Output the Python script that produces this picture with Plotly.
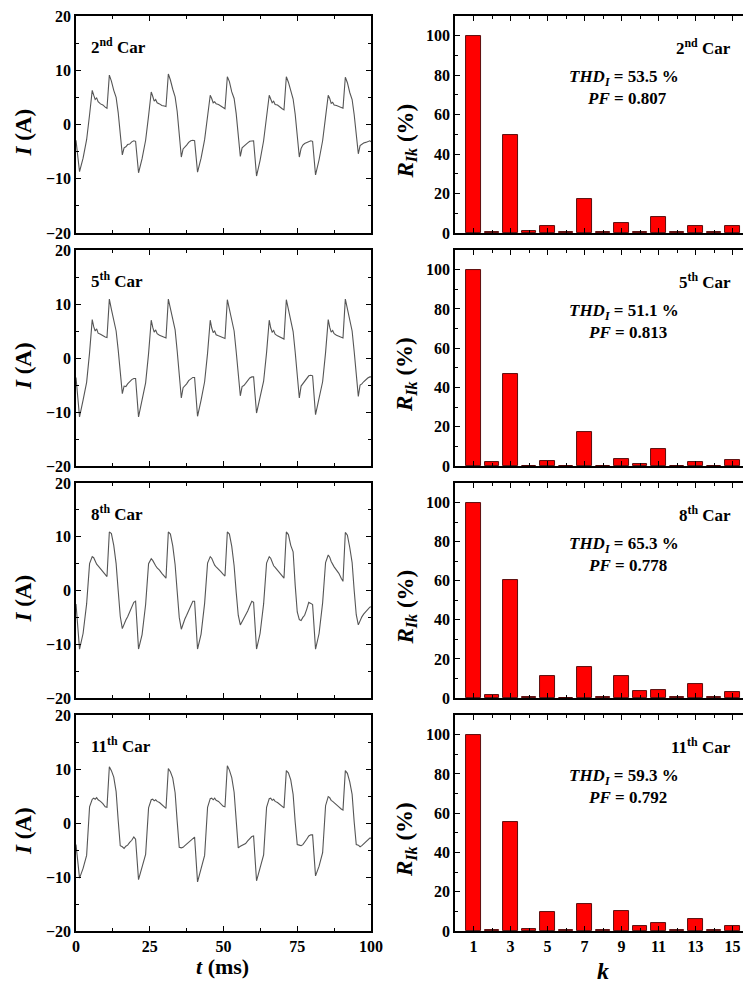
import plotly.graph_objects as go

W, H = 751, 986          # window size (reference picture)
OFF = 8                  # page body margin in the browser
FW, FH = W - OFF, H - OFF  # figure size so that it ends exactly at the window edge
FONT = "Liberation Serif, Times New Roman, Times, serif"

# ---------------- data ----------------
CARS = ["2<sup>nd</sup> Car", "5<sup>th</sup> Car", "8<sup>th</sup> Car", "11<sup>th</sup> Car"]
THD_I = ["53.5", "51.1", "65.3", "59.3"]
PF = ["0.807", "0.813", "0.778", "0.792"]

K = [1, 2, 3, 4, 5, 6, 7, 8, 9, 10, 11, 12, 13, 14, 15]
K_TICKS = [1, 3, 5, 7, 9, 11, 13, 15]
R_2ND = [100, 0.5, 49.5, 1.2, 3.8, 0.3, 17.0, 0.5, 5.0, 0.5, 8.0, 0.6, 3.5, 0.5, 3.8]
R_5TH = [100, 2.0, 47.0, 0.0, 2.5, 0.0, 17.3, 0.0, 3.8, 0.8, 8.5, 0.0, 2.2, 0.0, 3.3]
R_8TH = [100, 1.3, 60.5, 0.3, 11.5, 0.2, 16.0, 0.7, 11.5, 3.7, 4.2, 0.7, 7.0, 0.3, 3.0]
R_11TH = [100, 0.3, 55.3, 1.0, 9.7, 0.7, 14.0, 0.5, 10.0, 2.7, 4.0, 0.5, 6.3, 0.5, 2.5]

T_TICKS = [0, 25, 50, 75, 100]

T_MS = [
    0.0, 1.2, 2.4, 3.6, 4.6, 5.5, 6.0, 6.5, 7.0, 7.5, 8.3, 9.1, 9.9, 10.5, 11.3, 12.0, 12.8, 13.6, 14.3, 15.0, 15.7, 16.3, 16.9, 17.5, 18.2, 18.9, 19.6,
    20.2, 21.2, 22.4, 23.6, 24.6, 25.5, 26.0, 26.5, 27.0, 27.5, 28.3, 29.1, 29.9, 30.5, 31.3, 32.0, 32.8, 33.6, 34.3, 35.0, 35.7, 36.3, 36.9, 37.5, 38.2, 38.9, 39.6,
    40.2, 41.2, 42.4, 43.6, 44.6, 45.5, 46.0, 46.5, 47.0, 47.5, 48.3, 49.1, 49.9, 50.5, 51.3, 52.0, 52.8, 53.6, 54.3, 55.0, 55.7, 56.3, 56.9, 57.5, 58.2, 58.9, 59.6,
    60.2, 61.2, 62.4, 63.6, 64.6, 65.5, 66.0, 66.5, 67.0, 67.5, 68.3, 69.1, 69.9, 70.5, 71.3, 72.0, 72.8, 73.6, 74.3, 75.0, 75.7, 76.3, 76.9, 77.5, 78.2, 78.9, 79.6,
    80.2, 81.2, 82.4, 83.6, 84.6, 85.5, 86.0, 86.5, 87.0, 87.5, 88.3, 89.1, 89.9, 90.5, 91.3, 92.0, 92.8, 93.6, 94.3, 95.0, 95.7, 96.3, 96.9, 97.5, 98.2, 98.9, 99.6,
    100.0,
]

I_2ND = [
    -2.9, -8.7, -6.2, -2.8, 1.8, 6.3, 5.4, 4.6, 4.9, 4.2, 3.8, 3.6, 3.2, 3.0, 9.1, 8.0, 6.3, 5.0, 2.2, -2.5, -5.6, -4.3, -4.1, -3.7, -3.6, -3.2, -3.0,
    -3.1, -8.9, -6.3, -2.9, 1.6, 6.0, 5.2, 4.3, 4.6, 4.0, 3.8, 3.5, 3.4, 3.3, 9.3, 8.2, 6.5, 5.1, 2.4, -2.6, -6.0, -4.5, -4.2, -3.8, -3.3, -3.0, -2.9,
    -3.0, -8.8, -6.2, -2.8, 1.4, 5.4, 4.8, 4.0, 4.2, 3.8, 3.7, 3.4, 3.1, 2.9, 8.8, 7.9, 6.0, 4.8, 2.0, -2.6, -5.9, -4.3, -4.0, -3.6, -3.4, -3.1, -3.0,
    -3.0, -9.5, -6.6, -3.0, 1.3, 5.4, 4.7, 4.0, 4.3, 3.7, 3.6, 3.2, 2.9, 2.7, 8.8, 7.8, 6.0, 4.7, 1.9, -2.7, -6.0, -4.4, -3.8, -3.5, -3.3, -3.1, -3.0,
    -3.1, -9.3, -6.5, -3.0, 1.4, 5.4, 4.8, 3.9, 4.1, 3.6, 3.5, 3.3, 3.1, 3.0, 8.7, 7.7, 5.9, 4.6, 1.8, -2.4, -5.4, -3.9, -3.6, -3.4, -3.3, -3.1, -3.0,
    -3.2,
]

I_5TH = [
    -3.6, -10.9, -7.8, -4.5, 1.0, 7.1, 5.8, 5.0, 5.4, 4.6, 4.4, 4.1, 3.9, 3.8, 10.9, 9.0, 7.0, 5.0, 1.5, -3.0, -6.6, -5.2, -5.3, -4.8, -4.4, -4.0, -3.8,
    -3.8, -10.9, -7.9, -4.6, 0.8, 7.0, 5.7, 4.8, 5.2, 4.5, 4.2, 4.0, 3.8, 3.7, 10.9, 9.1, 7.0, 5.2, 1.3, -3.2, -7.4, -5.5, -5.2, -4.8, -4.2, -3.8, -3.6,
    -3.6, -10.8, -7.8, -4.4, 0.9, 7.0, 5.6, 4.7, 5.0, 4.3, 4.1, 3.9, 3.7, 3.6, 10.8, 9.0, 6.9, 5.0, 1.2, -3.1, -7.0, -5.3, -5.1, -4.7, -4.2, -3.7, -3.5,
    -3.5, -10.2, -7.5, -4.3, 1.0, 7.0, 5.6, 4.8, 5.1, 4.4, 4.1, 3.9, 3.7, 3.5, 10.8, 8.9, 6.8, 4.9, 1.1, -3.3, -7.4, -5.2, -4.8, -4.3, -3.8, -3.3, -3.2,
    -3.3, -10.5, -7.6, -4.4, 1.0, 7.1, 5.7, 4.8, 5.1, 4.5, 4.2, 4.0, 3.8, 3.7, 10.9, 9.0, 6.9, 5.0, 1.2, -3.2, -7.1, -5.0, -4.8, -4.4, -4.0, -3.7, -3.5,
    -3.5,
]

I_8TH = [
    -2.5, -10.9, -8.0, -2.5, 5.0, 6.3, 6.1, 5.3, 4.9, 4.6, 4.1, 3.6, 3.0, 2.6, 10.9, 10.6, 8.4, 5.0, 0.0, -4.8, -7.1, -6.2, -5.5, -4.9, -4.0, -3.2, -2.2,
    -2.0, -10.9, -8.2, -2.6, 5.0, 5.9, 5.6, 5.0, 4.6, 4.2, 3.8, 3.2, 2.6, 2.3, 10.9, 10.5, 8.3, 4.8, -0.2, -5.0, -7.2, -6.0, -5.3, -4.6, -3.8, -3.0, -2.0,
    -2.0, -10.9, -8.1, -2.4, 5.1, 6.3, 6.0, 5.2, 4.7, 4.4, 4.0, 3.5, 3.0, 2.7, 10.9, 10.5, 8.2, 4.6, -0.3, -4.6, -6.4, -5.8, -5.2, -4.6, -3.8, -2.9, -2.0,
    -2.2, -10.9, -8.0, -2.5, 5.1, 6.3, 6.0, 5.1, 4.6, 4.3, 3.8, 3.2, 2.7, 2.3, 10.9, 10.4, 8.4, 7.2, 1.0, -4.0, -5.4, -5.6, -5.0, -4.6, -3.5, -2.2, -2.4,
    -2.6, -10.9, -8.0, -2.3, 5.2, 6.6, 6.2, 5.4, 4.8, 4.4, 3.8, 3.2, 2.3, 1.7, 10.8, 10.3, 8.0, 5.2, 0.0, -4.5, -6.4, -5.5, -4.9, -4.4, -3.9, -3.5, -3.1,
    -3.0,
]

I_11TH = [
    -4.0, -10.2, -8.4, -6.0, 3.0, 4.4, 4.6, 4.4, 4.7, 4.3, 4.0, 3.6, 3.0, 2.9, 10.4, 9.7, 8.5, 5.8, 0.5, -4.2, -4.4, -4.7, -4.3, -4.1, -3.6, -3.2, -2.6,
    -3.0, -10.5, -8.3, -5.8, 2.8, 4.3, 4.4, 4.1, 4.3, 4.0, 3.8, 3.4, 2.9, 2.7, 10.1, 9.5, 8.3, 5.6, 0.3, -4.5, -4.6, -4.5, -4.2, -3.9, -3.5, -3.1, -2.8,
    -2.6, -10.9, -8.5, -6.0, 2.9, 4.5, 4.6, 4.3, 4.6, 4.2, 4.0, 3.6, 3.1, 3.0, 10.6, 9.8, 8.4, 5.7, 0.4, -4.6, -4.3, -4.1, -4.0, -3.8, -3.3, -2.9, -2.5,
    -2.4, -10.7, -8.3, -5.9, 2.9, 4.5, 4.6, 4.2, 4.4, 4.0, 3.8, 3.4, 3.0, 2.8, 9.7, 9.3, 8.0, 5.3, 0.2, -4.0, -4.1, -4.2, -4.0, -3.6, -3.0, -2.4, -2.2,
    -2.2, -9.8, -8.0, -5.5, 3.2, 4.9, 4.7, 4.2, 4.0, 3.8, 3.4, 3.0, 2.6, 2.4, 9.7, 9.2, 7.6, 5.3, 0.2, -4.0, -4.1, -4.4, -4.2, -3.9, -3.5, -3.1, -2.8,
    -2.8,
]

WAVES = [I_2ND, I_5TH, I_8TH, I_11TH]
SPECTRA = [R_2ND, R_5TH, R_8TH, R_11TH]

# ---------------- layout geometry (window pixels) ----------------
TOPS = [16, 250, 483, 715]
BOTS = [233, 466, 698, 931]
LX = (76, 371)
RX = (455, 751)


def px(x):
    return (x - OFF) / FW


def py(y):
    return 1 - (y - OFF) / FH


fig = go.Figure()
layout = {}
annotations = []

tickfont = dict(family=FONT, size=16, color="black", weight="bold")
common = dict(
    showline=True, linecolor="black", linewidth=1.5, mirror="allticks",
    ticks="inside", ticklen=5, tickwidth=1.4, tickcolor="black",
    showgrid=False, zeroline=False, tickfont=tickfont, automargin=False,
    ticklabeloverflow="allow",
)
minor_style = dict(ticks="inside", ticklen=3, tickwidth=1.2, tickcolor="black")


def bold(s):
    return dict(family=FONT, size=s, color="black", weight="bold")


for i in range(4):
    nl, nr = 2 * i + 1, 2 * i + 2
    sl = "" if nl == 1 else str(nl)
    sr = str(nr)
    ydom = [py(BOTS[i]), py(TOPS[i])]
    last = i == 3

    fig.add_trace(go.Scatter(
        x=T_MS, y=WAVES[i], mode="lines",
        line=dict(color="#555555", width=1.1),
        xaxis="x" + sl, yaxis="y" + sl, showlegend=False,
    ))
    fig.add_trace(go.Bar(
        x=K, y=SPECTRA[i], width=0.8,
        marker=dict(color="#ff0000", line=dict(color="#4a0000", width=0.9)),
        xaxis="x" + sr, yaxis="y" + sr, showlegend=False,
    ))

    layout["xaxis" + sl] = dict(
        common, domain=[px(LX[0]), px(LX[1])], anchor="y" + sl,
        range=[0, 100], tickvals=T_TICKS, showticklabels=last,
        minor=dict(minor_style, dtick=12.5, tick0=0),
    )
    layout["yaxis" + sl] = dict(
        common, domain=ydom, anchor="x" + sl,
        range=[-20, 20], tick0=0, dtick=10,
        minor=dict(minor_style, dtick=5, tick0=0),
    )
    layout["xaxis" + sr] = dict(
        common, domain=[px(RX[0]), px(RX[1])], anchor="y" + sr,
        range=[0, 16], tickvals=K_TICKS, showticklabels=last,
        minor=dict(minor_style, dtick=1, tick0=0),
    )
    layout["yaxis" + sr] = dict(
        common, domain=ydom, anchor="x" + sr,
        range=[0, 110], tick0=0, dtick=20,
        minor=dict(minor_style, dtick=10, tick0=0),
    )

    top, bot = TOPS[i], BOTS[i]
    annotations += [
        dict(text=CARS[i], x=px(89), y=py(top + 30), xref="paper", yref="paper",
             xanchor="left", yanchor="middle", showarrow=False, font=bold(17)),
        dict(text=CARS[i], x=px(733), y=py(top + 31), xref="paper", yref="paper",
             xanchor="right", yanchor="middle", showarrow=False, font=bold(17)),
        dict(text="<i>THD</i><sub><i>I</i></sub> = " + THD_I[i] + " %", x=px(624), y=py(top + 62),
             xref="paper", yref="paper", xanchor="center", yanchor="middle",
             showarrow=False, font=bold(17)),
        dict(text="<i>PF</i> = " + PF[i], x=px(627), y=py(top + 82),
             xref="paper", yref="paper", xanchor="center", yanchor="middle",
             showarrow=False, font=bold(17)),
        dict(text="<i>I</i> (A)", x=px(23), y=py((top + bot) / 2 + 8), xref="paper", yref="paper",
             xanchor="center", yanchor="middle", textangle=-90, showarrow=False, font=bold(23)),
        dict(text="<i>R</i><sub><i>Ik</i></sub> (%)", x=px(406), y=py((top + bot) / 2 + 17),
             xref="paper", yref="paper", xanchor="center", yanchor="middle", textangle=-90,
             showarrow=False, font=bold(23)),
    ]

annotations += [
    dict(text="<i>t</i> (ms)", x=px(222), y=py(966), xref="paper", yref="paper",
         xanchor="center", yanchor="middle", showarrow=False, font=bold(22)),
    dict(text="<i>k</i>", x=px(603), y=py(971), xref="paper", yref="paper",
         xanchor="center", yanchor="middle", showarrow=False, font=bold(24)),
]

fig.update_layout(
    width=FW, height=FH,
    margin=dict(l=0, r=0, t=0, b=0, pad=0, autoexpand=False),
    paper_bgcolor="white", plot_bgcolor="white",
    font=dict(family=FONT),
    showlegend=False, bargap=0,
    annotations=annotations,
    **layout,
)

fig.write_html("out.html")
